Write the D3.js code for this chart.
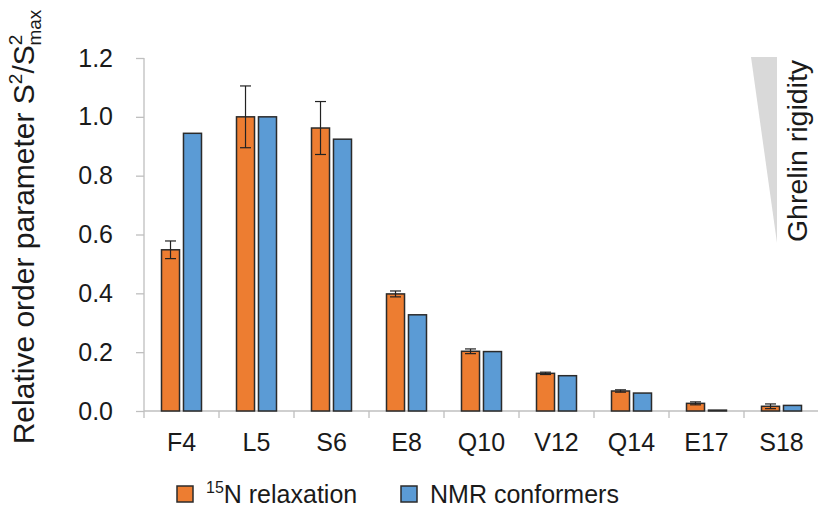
<!DOCTYPE html>
<html>
<head>
<meta charset="utf-8">
<script src="https://cdn.jsdelivr.net/npm/d3@7"></script>
<style>
  body { margin: 0; background: #fff; }
  text { font-family: "Liberation Sans", Arial, sans-serif; fill: #1a1a1a; }
</style>
</head>
<body>
<svg id="chart" width="818" height="509"></svg>
<script>
var residues = ["F4", "L5", "S6", "E8", "Q10", "V12", "Q14", "E17", "S18"];
var relaxation = [0.548, 1.0, 0.962, 0.398, 0.203, 0.128, 0.068, 0.026, 0.016];
var relaxationErr = [0.030, 0.105, 0.090, 0.010, 0.008, 0.004, 0.004, 0.005, 0.008];
var conformers = [0.944, 1.0, 0.924, 0.327, 0.202, 0.120, 0.061, 0.003, 0.019];
var yTicks = [0, 0.2, 0.4, 0.6, 0.8, 1.0, 1.2];
var seriesNames = ["relax", "nmr"];
var colors = {relax: "#ED7D31", nmr: "#5B9BD5"};

var svg = d3.select("#chart");
var plotLeft = 144, plotRight = 819, plotTop = 58, plotBottom = 411;

var x = d3.scaleBand().domain(residues).range([plotLeft, plotRight]);
var xs = d3.scaleBand().domain(seriesNames).range([0, 40]).paddingInner(0.18);
var y = d3.scaleLinear().domain([0, 1.2]).range([plotBottom, plotTop]);

var axisColor = "#bfbfbf";

// y axis
var yAxis = svg.append("g")
    .attr("transform", "translate(" + plotLeft + ",0)")
    .call(d3.axisLeft(y).tickValues(yTicks).tickSize(8).tickFormat(d3.format(".1f")));
yAxis.select(".domain").remove();
yAxis.selectAll("line").attr("stroke", axisColor).attr("stroke-width", 1.3);
yAxis.selectAll("text").attr("x", -31).style("font-size", "25px").attr("fill", "#1a1a1a")
    .style("font-family", "'Liberation Sans', Arial, sans-serif");
svg.append("line").attr("x1", plotLeft).attr("x2", plotLeft).attr("y1", plotTop).attr("y2", plotBottom + 7)
    .attr("stroke", axisColor).attr("stroke-width", 1.3);

// x axis baseline and category ticks
svg.append("line").attr("x1", plotLeft).attr("x2", plotRight).attr("y1", plotBottom).attr("y2", plotBottom)
    .attr("stroke", axisColor).attr("stroke-width", 1.3);
svg.append("g").selectAll("line").data(residues.slice(1)).enter().append("line")
    .attr("x1", function(d) { return x(d); }).attr("x2", function(d) { return x(d); })
    .attr("y1", plotBottom).attr("y2", plotBottom + 7)
    .attr("stroke", axisColor).attr("stroke-width", 1.3);
svg.append("g").selectAll("text").data(residues).enter().append("text")
    .attr("x", function(d) { return x(d) + x.bandwidth() / 2; })
    .attr("y", 451)
    .attr("text-anchor", "middle")
    .style("font-size", "25px")
    .text(function(d) { return d; });

// bars
var rows = residues.map(function(r, i) {
  return {name: r, relax: relaxation[i], err: relaxationErr[i], nmr: conformers[i]};
});
var groups = svg.append("g").selectAll("g").data(rows).enter().append("g")
    .attr("transform", function(d) { return "translate(" + (x(d.name) + x.bandwidth() / 2 - 20) + ",0)"; });

groups.selectAll("rect").data(function(d) {
    return seriesNames.map(function(s) { return {key: s, value: d[s]}; });
  }).enter().append("rect")
    .attr("x", function(d) { return xs(d.key); })
    .attr("width", xs.bandwidth())
    .attr("y", function(d) { return y(d.value); })
    .attr("height", function(d) { return plotBottom - y(d.value); })
    .attr("fill", function(d) { return colors[d.key]; })
    .attr("stroke", "#2b2b2b")
    .attr("stroke-width", 1.5);

// error bars
var eb = groups.append("g").attr("stroke", "#222").attr("stroke-width", 1.2);
var cx = xs("relax") + xs.bandwidth() / 2;
eb.append("line").attr("x1", cx).attr("x2", cx)
    .attr("y1", function(d) { return y(d.relax + d.err); })
    .attr("y2", function(d) { return y(d.relax - d.err); });
eb.append("line").attr("x1", cx - 5.5).attr("x2", cx + 5.5)
    .attr("y1", function(d) { return y(d.relax + d.err); })
    .attr("y2", function(d) { return y(d.relax + d.err); });
eb.append("line").attr("x1", cx - 5.5).attr("x2", cx + 5.5)
    .attr("y1", function(d) { return y(d.relax - d.err); })
    .attr("y2", function(d) { return y(d.relax - d.err); });

// y label
var yl = svg.append("text")
    .attr("transform", "translate(34,227) rotate(-90)")
    .attr("text-anchor", "middle")
    .style("font-size", "30px");
yl.append("tspan").text("Relative order parameter S");
yl.append("tspan").attr("dy", -12).style("font-size", "19px").text("2");
yl.append("tspan").attr("dy", 12).text("/S");
yl.append("tspan").attr("dy", -12).style("font-size", "19px").text("2");
yl.append("tspan").attr("dy", 19).attr("dx", -11).style("font-size", "19px").text("max");

// rigidity wedge
svg.append("path")
    .attr("d", "M751,57 L777,57 L777,243 Z")
    .attr("fill", "#d9d9d9");
svg.append("text")
    .attr("transform", "translate(807,151) rotate(-90)")
    .attr("text-anchor", "middle")
    .style("font-size", "28.5px")
    .text("Ghrelin rigidity");

// legend
var legend = [
  {key: "relax", x: 176, parts: [["15", true], ["N relaxation", false]]},
  {key: "nmr", x: 400, parts: [["NMR conformers", false]]}
];
legend.forEach(function(l) {
  svg.append("rect").attr("x", l.x + 1).attr("y", 486).attr("width", 16).attr("height", 16)
      .attr("fill", colors[l.key]).attr("stroke", "#2b2b2b").attr("stroke-width", 1.5);
  var t = svg.append("text").attr("x", l.x + 30).attr("y", 503).style("font-size", "25px");
  l.parts.forEach(function(p) {
    if (p[1]) t.append("tspan").attr("dy", -10).style("font-size", "16px").text(p[0]);
    else t.append("tspan").attr("dy", l.key === "relax" ? 10 : 0).text(p[0]);
  });
});
</script>
</body>
</html>
